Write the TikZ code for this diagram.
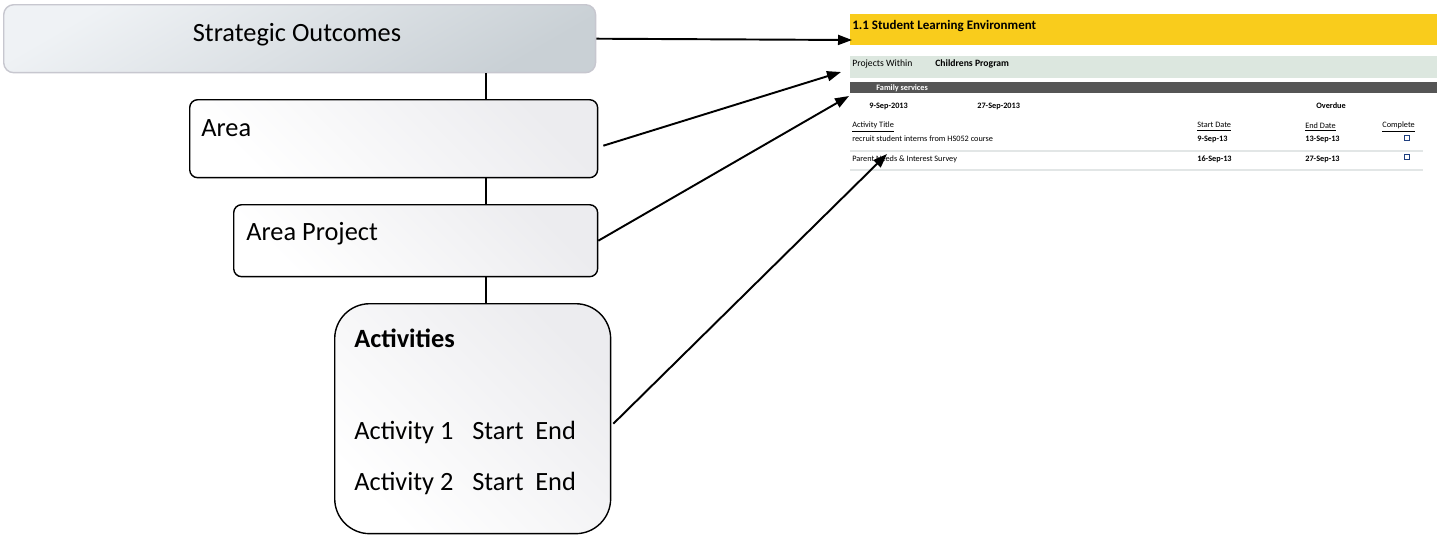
\documentclass[tikz,border=0pt]{standalone}
\usepackage{fontspec}
\setmainfont{Carlito}
\usetikzlibrary{arrows.meta}
\definecolor{soEdge}{HTML}{C7C7CF}
\definecolor{soTop}{HTML}{EFF2F5}
\definecolor{soBot}{HTML}{C9D0D5}
\definecolor{boxBot}{HTML}{ECECEF}
\definecolor{barYellow}{HTML}{F9CC1C}
\definecolor{barGreen}{HTML}{DCE7DF}
\definecolor{barGrey}{HTML}{555555}
\definecolor{ruleGrey}{HTML}{E2E6E6}
\definecolor{tickBlue}{HTML}{1F3F7F}
\begin{document}
\begin{tikzpicture}[x=0.02cm, y=-0.02cm,
  every node/.style={font=\fontsize{15}{17}\selectfont},
  boxtext/.style={anchor=base west, inner sep=0},
  levelbox/.style={draw, line width=0.8pt, rounded corners=0.16cm, anchor=north west,
    inner sep=0, left color=white, right color=boxBot, shading angle=135},
  cell/.style={anchor=west, inner sep=0, font=\fontsize{4.7}{5}\selectfont},
  bcell/.style={cell, font=\fontsize{4.7}{5}\selectfont\bfseries},
  bar/.style={anchor=north west, inner sep=0, minimum width=11.74cm},
  tickbox/.style={draw=tickBlue, line width=0.4pt, inner sep=0, minimum size=0.11cm},
  link/.style={-{Triangle[length=0.28cm, width=0.2cm]}, line width=1.1pt}]
\useasboundingbox (0,0) rectangle (1437,535);

\node (outcomes) [anchor=north west, draw=soEdge, line width=0.8pt, rounded corners=0.2cm,
  minimum width=11.84cm, minimum height=1.36cm, top color=soTop, bottom color=soBot,
  shading angle=30] at (3,4) {};
\node (outcomestext) [anchor=base, inner sep=0] at (297,41) {Strategic Outcomes};
\node (area) [levelbox, minimum width=8.16cm, minimum height=1.56cm] at (189,99) {};
\node (areatext) [boxtext] at (201,136) {Area};
\node (project) [levelbox, minimum width=7.28cm, minimum height=1.44cm] at (233,204) {};
\node (projecttext) [boxtext] at (246,240) {Area Project};
\node (acts) [levelbox, rounded corners=0.7cm, minimum width=5.52cm, minimum height=4.6cm] at (334,303) {};
\node (actstitle) [boxtext, font=\fontsize{15}{17}\selectfont\bfseries] at (354,347) {Activities};
\node (act1) [boxtext] at (354,439) {Activity 1};
\node (start1) [boxtext] at (472,439) {Start};
\node (end1) [boxtext] at (535,439) {End};
\node (act2) [boxtext] at (354,490) {Activity 2};
\node (start2) [boxtext] at (472,490) {Start};
\node (end2) [boxtext] at (535,490) {End};

\coordinate (spine) at (486,0);
\draw[line width=0.8pt] (outcomes.south -| spine) -- (area.north -| spine);
\draw[line width=0.8pt] (area.south -| spine) -- (project.north -| spine);
\draw[line width=0.8pt] (project.south -| spine) -- (acts.north -| spine);

\node (ylw) [bar, fill=barYellow, minimum height=0.62cm] at (850,14) {};
\node (ylwtext) [cell, font=\fontsize{7.4}{8}\selectfont\bfseries] at (852,26) {1.1 Student Learning Environment};
\node (grn) [bar, fill=barGreen, minimum height=0.44cm] at (850,56) {};
\node (within) [cell, font=\fontsize{5.5}{6}\selectfont] at (852,64) {Projects Within};
\node (program) [cell, font=\fontsize{5.5}{6}\selectfont\bfseries] at (935,64) {Childrens Program};
\node (gry) [bar, fill=barGrey, minimum height=0.22cm] at (850,82) {};
\node (family) [bcell, text=white] at (876,88) {Family services};
\node (from) [bcell] at (869,106) {9-Sep-2013};
\node (to) [bcell] at (977,106) {27-Sep-2013};
\node (overdue) [bcell] at (1316,106) {Overdue};
\node (htitle) [cell] at (852,127) {\underline{Activity Title}};
\node (hstart) [cell] at (1197,127) {\underline{Start Date}};
\node (hend) [cell] at (1305,127) {\underline{End Date}};
\node (hdone) [cell] at (1382,127) {\underline{Complete}};
\node (rowA) [cell] at (852,139) {recruit student interns from HS052 course};
\node (rowAstart) [bcell] at (1197,139) {9-Sep-13};
\node (rowAend) [bcell] at (1305,139) {13-Sep-13};
\node (cbA) [tickbox] at (1407,138) {};
\node (rowB) [cell] at (852,159) {Parent Needs \& Interest Survey};
\node (rowBstart) [bcell] at (1197,159) {16-Sep-13};
\node (rowBend) [bcell] at (1305,159) {27-Sep-13};
\node (cbB) [tickbox] at (1407,157) {};
\draw[ruleGrey, line width=0.6pt] (850,151) -- (1423,151);
\draw[ruleGrey, line width=0.6pt] (850,170) -- (1423,170);

\coordinate (tipA) at (852,40);
\coordinate (tipB) at (841,72);
\coordinate (tipC) at (849,96);
\coordinate (tipD) at (887,154);
\draw[link] (outcomes.east) -- (tipA);
\draw[link] ([yshift=-0.14cm]area.east) ++(5,0) -- (tipB);
\draw[link] (project.east) -- (tipC);
\draw[link] ([yshift=-0.1cm]acts.east) ++(2,0) -- (tipD);
\end{tikzpicture}
\end{document}
